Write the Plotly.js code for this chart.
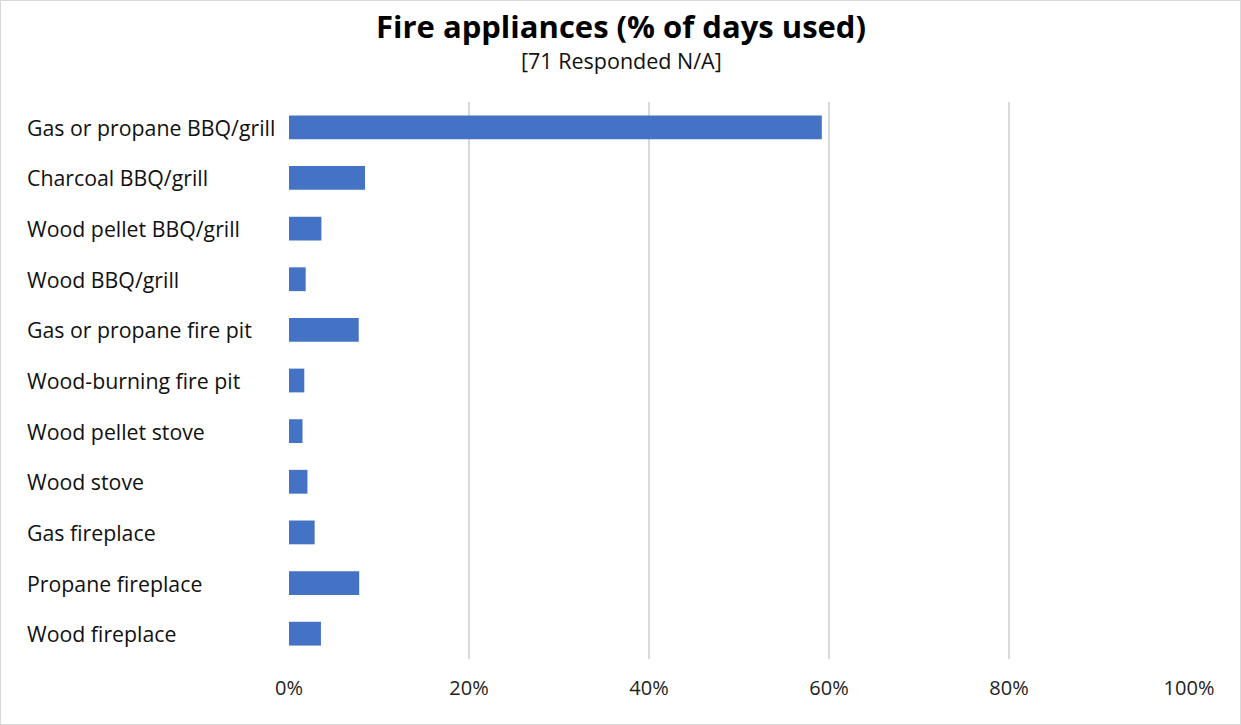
<!DOCTYPE html>
<html><head><meta charset="utf-8">
<script src="https://cdn.plot.ly/plotly-3.0.1.min.js"></script>
<style>
html,body{margin:0;padding:0;background:#fff;}
#wrap{width:1239px;height:723px;border:1px solid #d9d9d9;}
#chart{width:1239px;height:723px;}
</style></head>
<body><div id="wrap"><div id="chart"></div></div>
<script>
const categories = ["Gas or propane BBQ/grill","Charcoal BBQ/grill","Wood pellet BBQ/grill","Wood BBQ/grill","Gas or propane fire pit","Wood-burning fire pit","Wood pellet stove","Wood stove","Gas fireplace","Propane fireplace","Wood fireplace"];
const values = [0.592, 0.0845, 0.036, 0.0185, 0.0775, 0.017, 0.015, 0.0205, 0.0285, 0.078, 0.0355];
const tickVals = [0, 0.2, 0.4, 0.6, 0.8, 1.0];
const tickText = ["0%","20%","40%","60%","80%","100%"];
const titleText = "Fire appliances (% of days used)";
const subtitleText = "[71 Responded N/A]";

const FONT = "'Open Sans', Lato, sans-serif";
const ML = 288, MR = 51;
const plotW = 1239 - ML - MR;

const annotations = categories.map(c => ({
  text: c, x: (24 - ML) / plotW, xref: "paper", xanchor: "left",
  y: c, yref: "y", yanchor: "middle", showarrow: false,
  font: {family: FONT, size: 21.3, color: "#111"}
}));
annotations.push({
  text: subtitleText, xref: "paper", yref: "paper", x: 0.5 + ((620 - ML) - plotW/2)/plotW, y: 1,
  yshift: 42, xanchor: "center", yanchor: "middle", showarrow: false,
  font: {family: FONT, size: 21.5, color: "#111"}
});

Plotly.newPlot("chart", [{
  type: "bar", orientation: "h", y: categories, x: values,
  marker: {color: "#4472c4"}, hoverinfo: "x+y"
}], {
  width: 1239, height: 723,
  margin: {l: ML, r: MR, t: 101, b: 65},
  paper_bgcolor: "#fff", plot_bgcolor: "#fff",
  bargap: 0.53,
  showlegend: false,
  title: {text: "<b>" + titleText + "</b>", x: 620/1239, xanchor: "center", y: 1 - 26/723, yanchor: "middle", yref: "container",
          font: {family: FONT, size: 31, color: "#000"}},
  xaxis: {range: [0, 1], tickvals: tickVals, ticktext: tickText, showgrid: true, gridcolor: "#d9d9d9", gridwidth: 1.5,
          zeroline: false, showline: false, ticks: "", fixedrange: true,
          tickfont: {family: FONT, size: 20, color: "#222"}, ticklabelstandoff: 15},
  yaxis: {type: "category", autorange: "reversed", showticklabels: false, showgrid: false, zeroline: false, showline: false, ticks: ""},
  annotations: annotations
}, {displayModeBar: false, staticPlot: true});
</script></body></html>
